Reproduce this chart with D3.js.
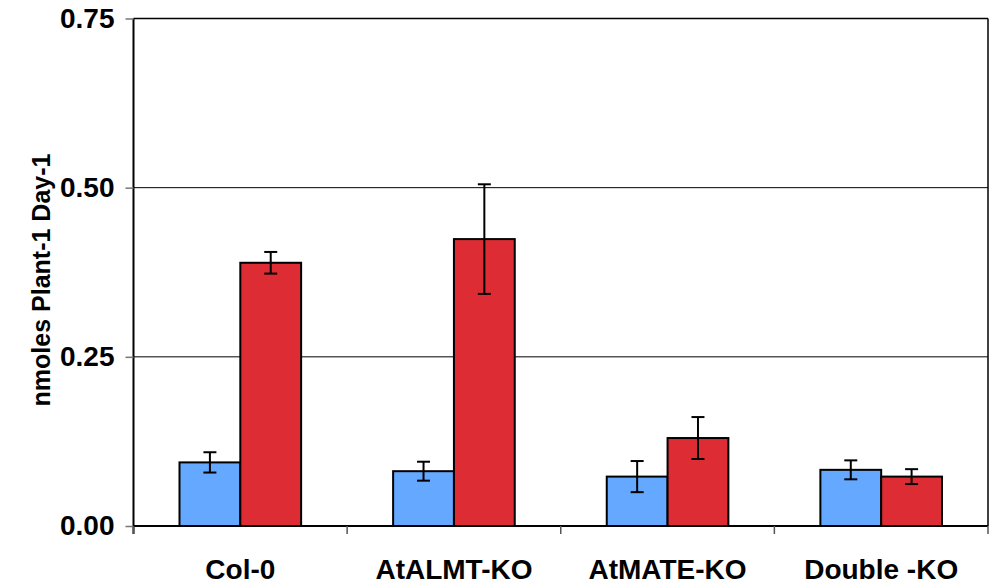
<!DOCTYPE html>
<html>
<head>
<meta charset="utf-8">
<script src="https://d3js.org/d3.v7.min.js"></script>
<style>
  body { margin: 0; background: #fff; }
  svg { display: block; }
</style>
</head>
<body>
<svg></svg>
<script>
// data
const categories = ["Col-0", "AtALMT-KO", "AtMATE-KO", "Double -KO"];
const blueValues = [0.094, 0.081, 0.073, 0.083];
const blueErrors = [0.015, 0.014, 0.023, 0.014];
const redValues = [0.389, 0.424, 0.130, 0.073];
const redErrors = [0.016, 0.081, 0.031, 0.011];
const yTicks = [0, 0.25, 0.5, 0.75];

const width = 990, height = 586;
const margin = { top: 18.5, right: 2, bottom: 60, left: 133.5 };
const innerW = 988 - margin.left;
const innerH = 526 - margin.top;
const font = "Liberation Sans, Arial, sans-serif";

const svg = d3.select("svg").attr("width", width).attr("height", height);
const g = svg.append("g").attr("transform", `translate(${margin.left},${margin.top})`);

const x0 = d3.scaleBand().domain(categories).range([0, innerW]).paddingInner(0).paddingOuter(0);
const x1 = d3.scaleBand().domain(["blue", "red"]).range([46, x0.bandwidth() - 46]).padding(0);
const y = d3.scaleLinear().domain([0, 0.75]).range([innerH, 0]);
const color = { blue: "#64a8ff", red: "#dd2c33" };

// gridlines
g.selectAll("line.grid")
  .data(yTicks.filter(t => t > 0 && t < 0.75))
  .enter().append("line")
  .attr("x1", 0).attr("x2", innerW)
  .attr("y1", d => y(d)).attr("y2", d => y(d))
  .attr("stroke", "#000").attr("stroke-width", 1);

// top and right border
g.append("line").attr("x1", 0).attr("x2", innerW).attr("y1", y(0.75)).attr("y2", y(0.75))
  .attr("stroke", "#000").attr("stroke-width", 1.5);
g.append("line").attr("x1", innerW).attr("x2", innerW).attr("y1", 0).attr("y2", innerH)
  .attr("stroke", "#000").attr("stroke-width", 1.5);

// bars
const rows = categories.map((c, i) => ({
  cat: c,
  bars: [
    { key: "blue", value: blueValues[i], err: blueErrors[i] },
    { key: "red", value: redValues[i], err: redErrors[i] }
  ]
}));

const groups = g.selectAll("g.grp").data(rows).enter().append("g")
  .attr("class", "grp")
  .attr("transform", d => `translate(${x0(d.cat)},0)`);

groups.selectAll("rect").data(d => d.bars).enter().append("rect")
  .attr("x", d => x1(d.key))
  .attr("y", d => y(d.value))
  .attr("width", x1.bandwidth())
  .attr("height", d => innerH - y(d.value))
  .attr("fill", d => color[d.key])
  .attr("stroke", "#000").attr("stroke-width", 2);

// error bars
const eb = groups.selectAll("g.err").data(d => d.bars).enter().append("g").attr("class", "err")
  .attr("stroke", "#000").attr("stroke-width", 2);
const cx = d => x1(d.key) + x1.bandwidth() / 2;
eb.append("line").attr("x1", cx).attr("x2", cx)
  .attr("y1", d => y(d.value + d.err)).attr("y2", d => y(d.value - d.err));
eb.append("line").attr("x1", d => cx(d) - 6.5).attr("x2", d => cx(d) + 6.5)
  .attr("y1", d => y(d.value + d.err)).attr("y2", d => y(d.value + d.err));
eb.append("line").attr("x1", d => cx(d) - 6.5).attr("x2", d => cx(d) + 6.5)
  .attr("y1", d => y(d.value - d.err)).attr("y2", d => y(d.value - d.err));

// y axis
const yAxis = g.append("g")
  .call(d3.axisLeft(y).tickValues(yTicks).tickFormat(d3.format(".2f")).tickSize(8).tickPadding(11));
yAxis.select(".domain").attr("stroke", "#000").attr("stroke-width", 2).attr("d", `M0,${innerH + 8}V0`);
yAxis.selectAll(".tick line").attr("stroke", "#777").attr("stroke-width", 1.5);
yAxis.selectAll("text")
  .attr("font-family", font)
  .attr("font-weight", "bold").attr("font-size", 28).attr("fill", "#000");

// x axis
const xAxis = g.append("g").attr("transform", `translate(0,${innerH})`)
  .call(d3.axisBottom(x0).tickSize(0).tickPadding(33));
xAxis.select(".domain").attr("stroke", "#000").attr("stroke-width", 2).attr("d", `M0,0H${innerW}`);
xAxis.selectAll("text")
  .attr("font-family", font)
  .attr("font-weight", "bold").attr("font-size", 28).attr("fill", "#000");

// category separator ticks
g.selectAll("line.ctick")
  .data(d3.range(categories.length + 1))
  .enter().append("line")
  .attr("x1", i => i * x0.bandwidth()).attr("x2", i => i * x0.bandwidth())
  .attr("y1", innerH).attr("y2", innerH + 8)
  .attr("stroke", "#555").attr("stroke-width", 1.5);

// y title
svg.append("text")
  .attr("transform", "translate(50,280) rotate(-90)")
  .attr("text-anchor", "middle")
  .attr("font-family", font)
  .attr("font-weight", "bold").attr("font-size", 25)
  .text("nmoles Plant-1 Day-1");
</script>
</body>
</html>
